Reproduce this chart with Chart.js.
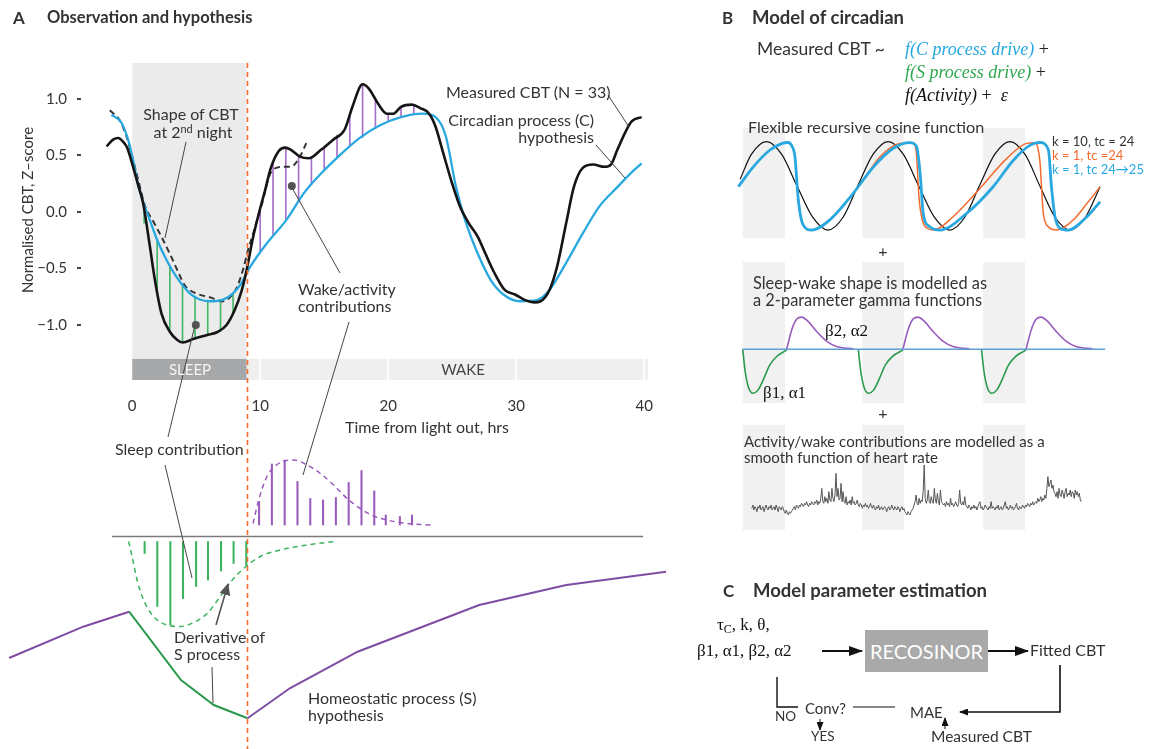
<!DOCTYPE html>
<html>
<head>
<meta charset="utf-8">
<script src="https://cdn.jsdelivr.net/npm/chart.js@4.4.1/dist/chart.umd.min.js"></script>
<style>
  body { margin: 0; width: 1152px; height: 749px; background: #fff; position: relative; overflow: hidden; }
  canvas { position: absolute; }
  .lbl { position: absolute; white-space: nowrap; line-height: 1; font-family: Lato, "Open Sans", sans-serif; font-size: 16px; color: #333; z-index: 6; }
  .lbl sup { font-size: 0.68em; vertical-align: 0.55em; }
  .lbl sub { font-size: 0.7em; vertical-align: -0.25em; }
  #overlay { position: absolute; left: 0; top: 0; z-index: 5; }
  #recos { position: absolute; left: 865px; top: 630px; width: 123px; height: 42px; background: #a9a9a9; color: #fff;
           font-family: Lato, sans-serif; font-size: 20px; line-height: 42px; text-align: center; z-index: 4; }
</style>
</head>
<body>
<canvas id="mainA" width="680" height="400" style="left:0;top:40px"></canvas>
<canvas id="lowerA" width="680" height="309" style="left:0;top:440px"></canvas>
<canvas id="cosB" width="375" height="110" style="left:735px;top:128px"></canvas>
<canvas id="gammaB" width="375" height="141" style="left:735px;top:262px"></canvas>
<canvas id="hrB" width="375" height="105" style="left:735px;top:425px"></canvas>
<div id="recos">RECOSINOR</div>

<svg id="overlay" width="1152" height="749">
  <defs>
    <marker id="ahBig" markerWidth="14" markerHeight="10" refX="13" refY="5" orient="auto" markerUnits="userSpaceOnUse">
      <path d="M0,0 L14,5 L0,10 z" fill="#111"/>
    </marker>
    <marker id="ahSmall" markerWidth="9" markerHeight="7" refX="8" refY="3.5" orient="auto" markerUnits="userSpaceOnUse">
      <path d="M0,0 L9,3.5 L0,7 z" fill="#111"/>
    </marker>
    <marker id="ahGray" markerWidth="12" markerHeight="11" refX="11" refY="5.5" orient="auto" markerUnits="userSpaceOnUse">
      <path d="M0,0 L12,5.5 L0,11 z" fill="#555"/>
    </marker>
  </defs>
  <g stroke="#444" stroke-width="1" fill="none">
    <line x1="186" y1="142" x2="165" y2="238"/>
    <line x1="608" y1="95" x2="629" y2="127"/>
    <line x1="596" y1="145" x2="625" y2="178"/>
    <line x1="291" y1="186" x2="340" y2="273"/>
    <line x1="349" y1="322" x2="303" y2="475"/>
    <line x1="195" y1="325" x2="168" y2="437"/>
    <line x1="165" y1="465" x2="192" y2="578"/>
    <line x1="212" y1="667" x2="213" y2="703"/>
    <line x1="216" y1="625" x2="228" y2="584" stroke="#555" stroke-width="1.6" marker-end="url(#ahGray)"/>
  </g>
  <g stroke="#111" fill="none">
    <line x1="822" y1="651" x2="862" y2="651" stroke-width="2" marker-end="url(#ahBig)"/>
    <line x1="988" y1="651" x2="1028" y2="651" stroke-width="2" marker-end="url(#ahBig)"/>
    <polyline points="1060,665 1060,712 960,712" stroke-width="1.6" marker-end="url(#ahSmall)"/>
    <line x1="853" y1="707" x2="895" y2="707" stroke-width="1.2"/>
    <polyline points="777,677 777,707 798,707" stroke-width="1.4"/>
    <line x1="820" y1="719" x2="820" y2="730" stroke-width="1" marker-end="url(#ahSmall)"/>
    <line x1="945" y1="729" x2="945" y2="718" stroke-width="1" marker-end="url(#ahSmall)"/>
  </g>
</svg>

<script>
// ---- Panel A, top: CBT over time (hours from lights out, z-score)
const xTicksA = [0, 10, 20, 30, 40];
const yTicksA = [-1.0, -0.5, 0.0, 0.5, 1.0];
const sleepSpan = [0, 8.95];
const wakeEnd = 40.3;
const wakeMarks = [10, 20, 30, 40];
const barTop = -1.30, barBottom = -1.487;

const measuredCBT = [[-2.0,0.58],[-1.5,0.64],[-1.1,0.655],[-0.7,0.62],[-0.4,0.57],[0.07,0.40],[0.46,0.24],[0.85,0.08],
  [1.375,-0.30],[1.77,-0.60],[2.29,-0.90],[2.94,-1.06],[3.5,-1.13],[3.95,-1.155],[4.76,-1.125],[5.8,-1.09],[6.7,-1.06],
  [7.37,-1.0],[8.0,-0.87],[8.54,-0.70],[8.93,-0.52],[9.45,-0.22],[9.97,0.02],[10.4,0.20],[10.8,0.38],[11.45,0.54],
  [11.95,0.57],[12.4,0.55],[13.1,0.49],[13.8,0.475],[14.75,0.55],[15.7,0.64],[16.6,0.73],[17.2,0.93],[18.0,1.13],
  [18.5,1.09],[19.2,0.96],[19.9,0.87],[20.4,0.87],[21.0,0.93],[21.85,0.95],[22.5,0.92],[23.2,0.87],[23.7,0.755],
  [24.3,0.52],[25.0,0.25],[25.6,0.05],[26.3,-0.10],[27.0,-0.22],[27.6,-0.37],[28.3,-0.54],[29.1,-0.69],[29.9,-0.73],
  [30.7,-0.78],[31.4,-0.80],[31.9,-0.79],[32.6,-0.69],[33.2,-0.48],[33.9,-0.10],[34.5,0.22],[35.2,0.39],[36.0,0.42],
  [36.9,0.40],[37.4,0.42],[37.9,0.55],[38.5,0.70],[39.0,0.80],[39.8,0.84]];
const circadianC = [[-1.62,0.86],[-0.84,0.79],[-0.32,0.64],[0.07,0.46],[0.46,0.24],[0.85,0.09],[1.375,-0.07],[1.9,-0.235],
  [2.68,-0.425],[3.46,-0.575],[4.5,-0.72],[5.28,-0.775],[6.06,-0.79],[7.1,-0.775],[7.88,-0.72],[8.54,-0.63],[9.19,-0.49],
  [10.5,-0.28],[12.05,-0.07],[13.4,0.165],[14.75,0.34],[16.1,0.49],[17.7,0.65],[19.4,0.77],[21.0,0.84],[22.7,0.87],
  [23.7,0.84],[24.5,0.67],[25.3,0.22],[26.0,-0.07],[27.0,-0.37],[28.0,-0.60],[29.0,-0.73],[30.3,-0.79],[31.6,-0.78],
  [32.6,-0.69],[33.9,-0.45],[35.2,-0.19],[36.5,0.05],[37.9,0.22],[39.2,0.37],[39.8,0.43]];
const secondNight = [[-1.75,0.90],[-0.97,0.81],[-0.45,0.67],[0.07,0.46],[0.5,0.27],[0.98,0.06],[1.63,-0.08],[2.29,-0.22],
  [2.94,-0.37],[3.59,-0.53],[4.1,-0.65],[5.0,-0.72],[6.06,-0.755],[7.1,-0.79],[7.6,-0.76],[8.15,-0.675],[8.66,-0.51],
  [9.05,-0.336],[9.45,-0.19],[9.84,-0.04],[10.23,0.11],[10.6,0.28],[10.96,0.37],[11.8,0.40],[12.4,0.40],[13.1,0.49],[13.6,0.61]];
const sleepHours = [0.93, 1.95, 2.94, 3.93, 4.91, 5.9, 6.9, 7.88];
const sleepHigh = [0.03, -0.245, -0.47, -0.64, -0.745, -0.785, -0.78, -0.72];
const sleepLow = [-0.10, -0.73, -1.06, -1.15, -1.125, -1.09, -1.06, -0.89];
const wakeHours = [10, 11, 12, 13, 14, 15, 16, 17, 18, 19, 20, 21, 22];
const wakeLow = [-0.35, -0.21, -0.075, 0.10, 0.24, 0.37, 0.48, 0.58, 0.66, 0.745, 0.80, 0.84, 0.86];
const wakeHigh = [0.02, 0.43, 0.57, 0.50, 0.49, 0.57, 0.68, 0.86, 1.12, 0.99, 0.87, 0.93, 0.945];
const markerPoints = [[12.47, 0.23], [4.97, -1.0]];

// ---- Panel A, bottom: contributions and homeostatic process (arbitrary units)
const sProcess = [[-9.63,-1.215],[-3.84,-0.902],[-0.25,-0.752],[3.8,-1.435],[6.36,-1.685],[9.0,-1.818],
  [12.3,-1.518],[17.6,-1.152],[27.1,-0.685],[33.9,-0.485],[41.7,-0.352]];
const sleepDerivHours = [0.96, 1.95, 2.97, 3.96, 4.98, 5.91, 6.93, 7.91, 8.9];
const sleepDerivDepth = [-0.17, -0.70, -0.885, -0.62, -0.50, -0.435, -0.345, -0.27, -0.30];
const sleepDerivTop = -0.05;
const sleepDerivCurve = [[-0.29,-0.05],[-0.02,-0.20],[0.37,-0.435],[0.88,-0.635],[1.66,-0.80],[2.71,-0.885],[3.75,-0.90],
  [4.79,-0.86],[5.84,-0.77],[6.875,-0.60],[7.91,-0.42],[8.88,-0.30],[10.0,-0.20],[11.56,-0.135],[13.65,-0.085],[15.86,-0.05]];
const wakeDerivHours = [9.9, 10.9, 11.9, 12.9, 13.9, 14.9, 15.9, 16.9, 17.9, 18.9, 19.8, 20.9, 21.85];
const wakeDerivHeight = [0.35, 0.725, 0.765, 0.55, 0.38, 0.365, 0.39, 0.54, 0.66, 0.455, 0.215, 0.20, 0.215];
const wakeDerivBase = 0.115;
const wakeDerivCurve = [[9.43,0.13],[9.87,0.365],[10.52,0.60],[11.56,0.74],[12.6,0.765],[13.65,0.715],[14.69,0.63],
  [15.73,0.515],[16.77,0.38],[17.8,0.28],[18.85,0.205],[19.9,0.165],[21.46,0.13],[23.4,0.115]];
const baselineSpan = [-1.6, 39.9];

// ---- Panel B: model components (hours)
const sleepBoxes = [[0, 8.34], [23.6, 31.8], [47.45, 55.7]];
const cosK10 = [[-0.5,0.15],[1.7,0.71],[4.7,1.0],[7.7,0.71],[10.7,0.0],[13.8,-0.71],[16.8,-1.0],[19.8,-0.71],[22.7,0.0],
  [25.7,0.71],[28.7,1.0],[31.7,0.71],[34.7,0.0],[37.8,-0.71],[40.8,-1.0],[43.8,-0.71],[46.7,0.0],[49.7,0.71],[52.7,1.0],
  [55.7,0.71],[58.6,0.0],[61.6,-0.71],[64.6,-1.0],[67.6,-0.71],[70.5,-0.02]];
const cosK1 = [[21.8,-0.17],[23.1,0.02],[27.1,0.66],[31.0,0.96],[33.6,0.975],[34.2,0.8],[34.8,-0.3],[35.5,-0.8],[36.6,-0.97],
  [37.6,-1.0],[41.5,-0.70],[46.8,-0.06],[52.1,0.62],[56.0,0.96],[57.6,0.975],[58.6,0.58],[59.3,-0.62],[60.3,-0.925],
  [61.9,-1.0],[65.2,-0.77],[67.9,-0.40],[70.5,-0.02]];
const cosK1Drift = [[-0.86,-0.02],[2.09,0.43],[5.38,0.81],[7.8,0.96],[8.9,0.98],[9.6,0.92],[10.3,0.66],[10.97,-0.32],
  [11.95,-0.89],[13.6,-1.0],[17.2,-0.77],[21.8,-0.17],[25.8,0.43],[29.7,0.85],[33.0,0.975],[34.3,0.885],[35.0,0.28],
  [35.6,-0.62],[36.9,-0.925],[38.9,-1.0],[44.2,-0.62],[49.4,-0.02],[53.4,0.58],[56.7,0.92],[58.6,0.98],[60.3,0.81],
  [60.9,-0.02],[61.6,-0.70],[62.6,-0.96],[64.2,-1.0],[67.9,-0.70],[70.5,-0.36]];
const gammaSleep = [
  [[0,0],[0.45,-0.65],[1.1,-1.17],[2.05,-1.375],[3.05,-1.27],[4.05,-0.96],[5.35,-0.49],[6.7,-0.23],[8.67,-0.03]],
  [[22.8,0],[23.25,-0.65],[23.9,-1.17],[24.85,-1.375],[25.85,-1.27],[26.85,-0.96],[28.15,-0.49],[29.5,-0.23],[31.6,-0.03]],
  [[47.1,0],[47.55,-0.65],[48.2,-1.17],[49.15,-1.375],[50.15,-1.27],[51.15,-0.96],[52.45,-0.49],[53.8,-0.23],[55.9,-0.03]]];
const gammaWake = [
  [[8.67,0],[9.66,0.6],[10.65,0.94],[11.6,1.0],[12.95,0.86],[14.6,0.55],[16.6,0.24],[18.5,0.08],[21.8,0.01]],
  [[31.6,0],[32.6,0.6],[33.6,0.94],[34.55,1.0],[35.9,0.86],[37.55,0.55],[39.55,0.24],[41.45,0.08],[44.7,0.01]],
  [[55.9,0],[56.9,0.6],[57.9,0.94],[58.85,1.0],[60.2,0.86],[61.85,0.55],[63.85,0.24],[65.75,0.08],[69.0,0.01]]];
const gammaBaseline = [[0, 0], [71.5, 0]];
const hrStart = 1.8, hrStep = 0.2;
const heartRate = [
  60,62,59,61,60,58,61,60,62,59,60,61,58,60,62,60,59,61,60,62,59,60,61,59,62,60,58,61,60,59,61,60,
  58,57,59,57,56,58,57,58,59,
  60,61,59,62,61,60,62,61,63,62,61,63,62,64,62,61,63,62,64,63,
  62,64,63,65,62,64,63,66,72,64,63,67,
  64,66,63,70,65,64,72,66,64,68,81,67,72,65,66,75,64,70,
  64,63,67,62,64,63,65,62,67,63,64,62,63,65,62,
  61,63,62,60,62,61,63,61,62,60,61,63,61,60,62,
  60,59,61,60,62,59,60,61,59,60,61,60,58,60,61,59,60,62,60,59,61,60,59,61,60,58,60,61,59,60,
  58,57,56,58,57,56,58,59,
  60,62,64,68,63,62,66,63,65,64,70,86,
  66,63,65,71,64,63,67,64,63,72,65,63,69,64,62,71,64,63,
  62,63,61,64,62,63,61,66,62,63,61,62,64,62,61,63,71,63,62,64,62,67,62,
  61,60,62,61,59,61,60,62,60,61,59,61,63,64,60,61,59,60,62,61,60,59,61,60,64,60,61,60,59,61,
  60,62,59,60,61,59,60,62,64,60,61,59,60,62,60,61,59,60,61,63,60,59,61,60,
  60,62,61,60,62,61,63,62,61,63,62,64,62,63,64,
  63,66,64,65,67,64,66,65,68,66,
  72,79,73,75,77,72,74,70,
  69,67,70,66,72,68,67,71,69,66,70,72,67,69,68,71,67,70,69,66,71,68,70,67,69,65,64];

const FONT = 'Lato, "Open Sans", sans-serif';
const C = { black: '#151515', blue: '#29a8e0', orange: '#f26b2f', green: '#3cb35f', greenDark: '#2a9a4c',
            purple: '#9a5cbc', purpleDark: '#7f4ca3', grid: '#444' };

Chart.defaults.font.family = FONT;
Chart.defaults.animation = false;

const xy = pairs => pairs.map(p => ({ x: p[0], y: p[1] }));
const lineDs = (data, color, width, dash) => ({
  type: 'line', data: xy(data), borderColor: color, borderWidth: width, borderDash: dash || [],
  pointRadius: 0, fill: false, cubicInterpolationMode: 'monotone'
});
const barDs = (xs, lo, hi, color, thick) => ({
  type: 'bar', grouped: false, barThickness: thick, backgroundColor: color,
  data: xs.map((x, i) => ({ x: x, y: [Array.isArray(lo) ? lo[i] : lo, Array.isArray(hi) ? hi[i] : hi] }))
});
const hiddenScales = (xmin, xmax, ymin, ymax) => ({
  x: { type: 'linear', display: false, min: xmin, max: xmax, offset: false },
  y: { type: 'linear', display: false, min: ymin, max: ymax }
});
const baseOptions = scales => ({
  responsive: false, animation: false, events: [],
  layout: { padding: 0 },
  plugins: { legend: { display: false }, tooltip: { enabled: false } },
  scales: scales
});

function drawLightLine(chart, top) {
  const { ctx, scales: { x } } = chart;
  const px = Math.round(x.getPixelForValue(sleepSpan[1])) + 0.5;
  ctx.save();
  ctx.strokeStyle = C.orange;
  ctx.lineWidth = 1.6;
  ctx.setLineDash([5, 4]);
  ctx.beginPath();
  ctx.moveTo(px, top);
  ctx.lineTo(px, chart.height);
  ctx.stroke();
  ctx.restore();
}

const mainBands = {
  id: 'mainBands',
  beforeDatasetsDraw(chart) {
    const { ctx, chartArea: a, scales: { x, y } } = chart;
    const x0 = x.getPixelForValue(sleepSpan[0]), x1 = x.getPixelForValue(sleepSpan[1]);
    const yb = y.getPixelForValue(barTop), ye = y.getPixelForValue(barBottom);
    const xw = x.getPixelForValue(wakeEnd);
    ctx.save();
    ctx.fillStyle = '#ebebeb';
    ctx.fillRect(x0, a.top, x1 - x0, yb - a.top);
    ctx.fillStyle = '#a7a8aa';
    ctx.fillRect(x0, yb, x1 - x0, ye - yb);
    ctx.fillStyle = '#efefef';
    ctx.fillRect(x1, yb, xw - x1, ye - yb);
    ctx.fillStyle = '#fff';
    wakeMarks.forEach(m => ctx.fillRect(x.getPixelForValue(m) - 1, yb, 2, ye - yb));
    ctx.restore();
  },
  afterDatasetsDraw(chart) { drawLightLine(chart, chart.chartArea.top); }
};

const lowerLine = { id: 'lowerLine', afterDatasetsDraw(chart) { drawLightLine(chart, 0); } };

const boxPlugin = {
  id: 'sleepBoxes',
  beforeDatasetsDraw(chart) {
    const { ctx, chartArea: a, scales: { x } } = chart;
    ctx.save();
    ctx.fillStyle = '#f1f1f1';
    sleepBoxes.forEach(([s, e]) => {
      const p0 = x.getPixelForValue(s), p1 = x.getPixelForValue(e);
      ctx.fillRect(p0, a.top, p1 - p0, a.bottom - a.top);
    });
    ctx.restore();
  }
};

// main panel A chart
new Chart(document.getElementById('mainA'), {
  type: 'line',
  data: { datasets: [
    { type: 'scatter', data: xy(markerPoints), pointRadius: 4, pointBackgroundColor: '#555', pointBorderWidth: 0 },
    lineDs(measuredCBT, C.black, 2.6),
    lineDs(circadianC, C.blue, 2.3),
    lineDs(secondNight, '#333', 2, [6, 4]),
    barDs(wakeHours, wakeLow, wakeHigh, '#a670c8', 1),
    barDs(sleepHours, sleepLow, sleepHigh, '#45b866', 1)
  ] },
  options: Object.assign(baseOptions({
    x: {
      type: 'linear', min: -4.0, max: 40.53, offset: false,
      grid: { display: false, drawTicks: false }, border: { display: false },
      ticks: { padding: 17, color: '#333', font: { size: 15 } },
      afterBuildTicks: s => { s.ticks = xTicksA.map(v => ({ value: v })); },
      afterFit: s => { s.height = 60; }
    },
    y: {
      type: 'linear', min: barBottom, max: 1.3186,
      grid: { display: true, drawOnChartArea: false, drawTicks: true, tickLength: 4, lineWidth: 2, color: C.grid },
      border: { display: false },
      ticks: { padding: 10, color: '#333', font: { size: 15 },
               callback: v => v.toFixed(1).replace('-', '\u2212') },
      afterBuildTicks: s => { s.ticks = yTicksA.map(v => ({ value: v })); },
      afterFit: s => { s.width = 81; }
    }
  }), { layout: { padding: { top: 23, right: 29, left: 0, bottom: 0 } } }),
  plugins: [mainBands]
});

// lower panel A chart
new Chart(document.getElementById('lowerA'), {
  type: 'line',
  data: { datasets: [
    Object.assign(lineDs(sProcess, C.purpleDark, 2), {
      cubicInterpolationMode: 'default', tension: 0,
      segment: { borderColor: c => (c.p0.parsed.x >= -0.3 && c.p1.parsed.x <= 9.05) ? C.greenDark : C.purpleDark }
    }),
    lineDs(sleepDerivCurve, C.green, 1.5, [5, 4]),
    lineDs(wakeDerivCurve, C.purple, 1.5, [5, 4]),
    barDs(sleepDerivHours, sleepDerivDepth, sleepDerivTop, C.green, 1.4),
    barDs(wakeDerivHours, wakeDerivBase, wakeDerivHeight, C.purple, 1.4),
    Object.assign(lineDs([[baselineSpan[0], 0], [baselineSpan[1], 0]], '#7a7a7a', 1.5), { cubicInterpolationMode: 'default' })
  ] },
  options: baseOptions(hiddenScales(-10.34, 42.785, -2.125, 0.965)),
  plugins: [lowerLine]
});

// panel B: recursive cosine
new Chart(document.getElementById('cosB'), {
  type: 'line',
  data: { datasets: [
    lineDs(cosK1Drift, C.blue, 2.8),
    lineDs(cosK1, C.orange, 1.5),
    lineDs(cosK10, '#111', 1.2)
  ] },
  options: baseOptions(hiddenScales(-1.52, 72.45, -1.18, 1.308)),
  plugins: [boxPlugin]
});

// panel B: gamma sleep/wake shapes
const withGaps = cycles => cycles.reduce((acc, cyc, i) => acc.concat(i ? [[cyc[0][0] - 0.01, null]] : [], cyc), []);
new Chart(document.getElementById('gammaB'), {
  type: 'line',
  data: { datasets: [
    Object.assign(lineDs(gammaBaseline, '#5d9fd6', 1.5), { cubicInterpolationMode: 'default' }),
    Object.assign(lineDs(withGaps(gammaSleep), C.greenDark, 1.6), { spanGaps: false }),
    Object.assign(lineDs(withGaps(gammaWake), C.purple, 1.6), { spanGaps: false })
  ] },
  options: baseOptions(hiddenScales(-1.52, 72.45, -1.68, 2.72)),
  plugins: [boxPlugin]
});

// panel B: heart rate trace
new Chart(document.getElementById('hrB'), {
  type: 'line',
  data: { datasets: [
    { data: heartRate.map((v, i) => ({ x: hrStart + i * hrStep, y: v })), borderColor: '#555', borderWidth: 1,
      pointRadius: 0, tension: 0, fill: false }
  ] },
  options: baseOptions(hiddenScales(-1.52, 72.45, 47, 110)),
  plugins: [boxPlugin]
});

// ---- text
function addText(html, x, y, opt) {
  opt = opt || {};
  const d = document.createElement('div');
  d.className = 'lbl';
  d.innerHTML = html;
  d.style.left = x + 'px';
  d.style.top = y + 'px';
  const tx = opt.align === 'center' ? '-50%' : opt.align === 'right' ? '-100%' : '0';
  d.style.transform = 'translate(' + tx + ', -50%)' + (opt.rotate ? ' rotate(' + opt.rotate + 'deg)' : '');
  if (opt.size) d.style.fontSize = opt.size + 'px';
  if (opt.color) d.style.color = opt.color;
  if (opt.bold) d.style.fontWeight = 700;
  if (opt.serif) d.style.fontFamily = '"Liberation Serif", "DejaVu Serif", serif';
  if (opt.italic) d.style.fontStyle = 'italic';
  document.body.appendChild(d);
}

// panel A
addText('A', 13, 17, { bold: true, size: 17 });
addText('Observation and hypothesis', 47, 17, { bold: true, size: 16.5 });
addText('Shape of CBT', 191, 114, { align: 'center' });
addText('at 2<sup>nd</sup> night', 193, 132, { align: 'center' });
addText('Measured CBT (N = 33)', 446, 92);
addText('Circadian process (C)', 594, 120, { align: 'right' });
addText('hypothesis', 594, 137, { align: 'right' });
addText('Wake/activity', 298, 289);
addText('contributions', 298, 306);
addText('SLEEP', 190, 369, { align: 'center', color: '#f4f4f4', size: 15 });
addText('WAKE', 463, 369, { align: 'center', color: '#444', size: 15 });
addText('Time from light out, hrs', 427, 427, { align: 'center' });
addText('Normalised CBT, Z\u2013score', 27, 210, { align: 'center', rotate: -90, size: 15 });
addText('Sleep contribution', 115, 449);
addText('Derivative of', 174, 637);
addText('S process', 174, 654);
addText('Homeostatic process (S)', 308, 698);
addText('hypothesis', 308, 715);

// panel B
addText('B', 722, 17, { bold: true, size: 17 });
addText('Model of circadian', 752, 17, { bold: true, size: 18.5 });
addText('Measured CBT ~', 757, 49, { size: 17.5 });
addText('f(C process drive)<span style="color:#222;font-style:normal"> +</span>', 905, 49, { serif: true, italic: true, size: 18, color: C.blue });
addText('f(S process drive)<span style="color:#222;font-style:normal"> +</span>', 905, 72, { serif: true, italic: true, size: 18, color: '#2fa84f' });
addText('f(Activity)<span style="font-style:normal"> +&nbsp; </span>\u03b5', 905, 95, { serif: true, italic: true, size: 18, color: '#111' });
addText('Flexible recursive cosine function', 748, 127, { size: 16.2 });
addText('k = 10, tc = 24', 1052, 141, { size: 13 });
addText('k = 1, tc =24', 1052, 155, { size: 13, color: C.orange });
addText('k = 1, tc 24\u219225', 1052, 169, { size: 13, color: C.blue });
addText('+', 883, 251, { align: 'center', size: 16 });
addText('Sleep-wake shape is modelled as', 753, 283, { size: 16.4 });
addText('a 2-parameter gamma functions', 753, 300, { size: 16.4 });
addText('\u03b22, \u03b12', 825, 330, { serif: true, size: 17, color: '#111' });
addText('\u03b21, \u03b11', 763, 392, { serif: true, size: 17, color: '#111' });
addText('+', 883, 413, { align: 'center', size: 16 });
addText('Activity/wake contributions are modelled as a', 744, 441, { size: 15 });
addText('smooth function of heart rate', 744, 457, { size: 15 });

// panel C
addText('C', 723, 590, { bold: true, size: 17 });
addText('Model parameter estimation', 753, 590, { bold: true, size: 18.5 });
addText('\u03c4<sub>C</sub>, k, \u03b8,', 717, 626, { serif: true, size: 17, color: '#111' });
addText('\u03b21, \u03b11, \u03b22, \u03b12', 697, 650, { serif: true, size: 17, color: '#111' });
addText('Fitted CBT', 1030, 650, { size: 16 });
addText('MAE', 910, 712, { size: 15 });
addText('Conv?', 805, 708, { size: 15 });
addText('NO', 775, 717, { size: 13.5 });
addText('YES', 811, 737, { size: 13.5 });
addText('Measured CBT', 931, 737, { size: 15.5 });
</script>
</body>
</html>
